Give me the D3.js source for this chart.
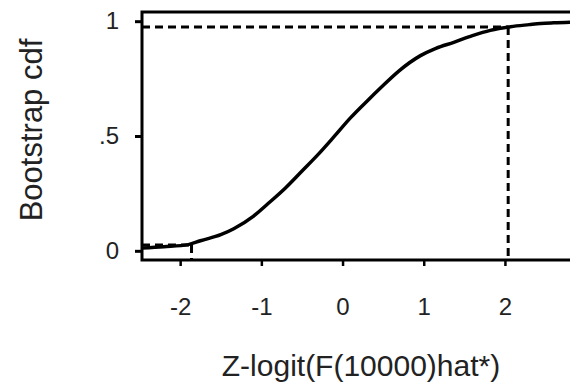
<!DOCTYPE html>
<html>
<head>
<script src="https://d3js.org/d3.v7.min.js"></script>
<style>
body { margin: 0; background: #fff; }
svg { display: block; font-family: 'Liberation Sans', Arial, sans-serif; }
</style>
</head>
<body>
<div id="plot"></div>
<script>
var width = 570;
var height = 382;

// bootstrap cdf
var zVals = [-2.47, -2.2, -1.9, -1.75, -1.5, -1.34, -1.1, -0.92, -0.7, -0.52, -0.3, -0.11, 0.1, 0.31, 0.47, 0.7, 0.96, 1.15, 1.37, 1.6, 1.82, 2.07, 2.3, 2.44, 2.6, 2.85];
var cdfVals = [0.012, 0.018, 0.027, 0.044, 0.07, 0.096, 0.15, 0.205, 0.275, 0.34, 0.42, 0.495, 0.58, 0.655, 0.71, 0.785, 0.85, 0.882, 0.908, 0.937, 0.96, 0.976, 0.985, 0.99, 0.993, 0.996];

var xTicks = [-2, -1, 0, 1, 2];
var yTicks = [0, 0.5, 1];
var yTickLabels = ["0", ".5", "1"];

// percentile guide lines (2.5% and 97.5%)
var lowCut = { z: -1.86, p: 0.025 };
var highCut = { z: 2.04, p: 0.975 };

var xScale = d3.scaleLinear().domain([-2.47, 2.9]).range([142, 578]);
var yScale = d3.scaleLinear().domain([-0.04, 1.04]).range([260, 12]);

var svg = d3.select("#plot").append("svg").attr("width", width).attr("height", height);

var points = zVals.map(function(z, i) { return { x: z, y: cdfVals[i] }; });

// frame
svg.append("rect")
.attr("x", xScale(-2.47))
.attr("y", yScale(1.04))
.attr("width", xScale(2.9) - xScale(-2.47))
.attr("height", yScale(-0.04) - yScale(1.04))
.style("fill", "none")
.style("stroke", "#000")
.style("stroke-width", 3);

// dashed guides
var dash = "8,5";
function guide(x1, y1, x2, y2) {
	svg.append("line")
	.attr("x1", xScale(x1)).attr("x2", xScale(x2))
	.attr("y1", yScale(y1)).attr("y2", yScale(y2))
	.style("stroke", "#000").style("stroke-width", 3).style("stroke-dasharray", dash);
}
guide(-2.47, highCut.p, highCut.z, highCut.p);
guide(highCut.z, highCut.p, highCut.z, -0.04);
guide(-2.47, lowCut.p, lowCut.z, lowCut.p);
guide(lowCut.z, lowCut.p, lowCut.z, -0.04);

// cdf curve
var line = d3.line()
.x(function(d) { return xScale(d.x); })
.y(function(d) { return yScale(d.y); })
.curve(d3.curveMonotoneX);

svg.append("path")
.datum(points)
.attr("d", line)
.style("fill", "none")
.style("stroke", "#000")
.style("stroke-width", 3.5);

// x axis
var xAxis = d3.axisBottom(xScale).tickValues(xTicks).tickSize(6).tickPadding(32)
.tickFormat(function(d) { return d < 0 ? "-" + Math.abs(d) : String(d); });
var gx = svg.append("g").attr("transform", "translate(0," + yScale(-0.04) + ")").call(xAxis)
.attr("font-size", 24).attr("font-family", null);
gx.select(".domain").remove();
gx.selectAll("line").style("stroke-width", 2.5);
gx.selectAll("text").style("fill", "#222");

// y axis
var yAxis = d3.axisLeft(yScale).tickValues(yTicks).tickSize(7).tickPadding(16)
.tickFormat(function(d, i) { return yTickLabels[i]; });
var gy = svg.append("g").attr("transform", "translate(" + xScale(-2.47) + ",0)").call(yAxis)
.attr("font-size", 24).attr("font-family", null);
gy.select(".domain").remove();
gy.selectAll("line").style("stroke-width", 3);
gy.selectAll("text").style("fill", "#222");

// titles
svg.append("text")
.attr("x", 361).attr("y", 376)
.attr("text-anchor", "middle")
.style("font-size", "30px").style("fill", "#222")
.text("Z-logit(F(10000)hat*)");

svg.append("text")
.attr("transform", "translate(42,130) rotate(-90)")
.attr("text-anchor", "middle")
.style("font-size", "31px").style("fill", "#222")
.text("Bootstrap cdf");
</script>
</body>
</html>
